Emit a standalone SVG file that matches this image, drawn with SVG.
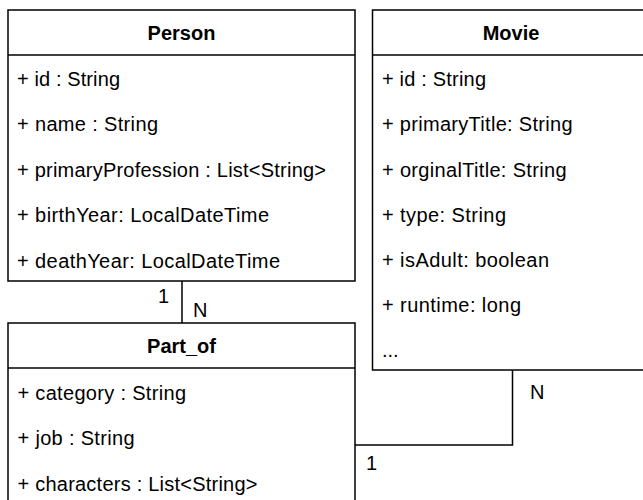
<svg xmlns="http://www.w3.org/2000/svg" width="643" height="500" viewBox="0 0 643 500">
<style>
.box{fill:#fff;stroke:#000;stroke-width:1.5}
.sep{stroke:#000;stroke-width:1.5;fill:none}
.conn{stroke:#000;stroke-width:1.5;fill:none}
text{font-family:"Liberation Sans",Arial,sans-serif;font-size:20px;fill:#000}
.title{font-weight:bold;text-anchor:middle}
.attr{}
</style>
<rect width="643" height="500" fill="#fff"/>
<g id="connectors">
<polyline class="conn" points="182,281 182,323"/>
<text x="169" y="303" text-anchor="end">1</text>
<text x="193" y="317">N</text>
<polyline class="conn" points="355,445 512.5,445 512.5,370"/>
<text x="530" y="399">N</text>
<text x="366" y="470">1</text>
</g>
<g id="person">
<rect class="box" x="8" y="10" width="347" height="271"/>
<line class="sep" x1="8" y1="55" x2="355" y2="55"/>
<text class="title" x="181.5" y="40">Person</text>
<text class="attr" x="17" y="86" textLength="103" lengthAdjust="spacing">+ id : String</text>
<text class="attr" x="17" y="131.3" textLength="141" lengthAdjust="spacing">+ name : String</text>
<text class="attr" x="17" y="176.6" textLength="309" lengthAdjust="spacing">+ primaryProfession : List&lt;String&gt;</text>
<text class="attr" x="17" y="222" textLength="252" lengthAdjust="spacing">+ birthYear: LocalDateTime</text>
<text class="attr" x="17" y="267.5" textLength="263" lengthAdjust="spacing">+ deathYear: LocalDateTime</text>
</g>
<g id="movie">
<rect class="box" x="372.5" y="10" width="278" height="360"/>
<line class="sep" x1="372.5" y1="55" x2="650" y2="55"/>
<text class="title" x="511" y="40">Movie</text>
<text class="attr" x="382" y="86" textLength="104" lengthAdjust="spacing">+ id : String</text>
<text class="attr" x="382" y="131.3" textLength="190.5" lengthAdjust="spacing">+ primaryTitle: String</text>
<text class="attr" x="382" y="176.6" textLength="184.5" lengthAdjust="spacing">+ orginalTitle: String</text>
<text class="attr" x="382" y="222" textLength="124" lengthAdjust="spacing">+ type: String</text>
<text class="attr" x="382" y="267" textLength="167" lengthAdjust="spacing">+ isAdult: boolean</text>
<text class="attr" x="382" y="312" textLength="139" lengthAdjust="spacing">+ runtime: long</text>
<text class="attr" x="382" y="357">...</text>
</g>
<g id="part_of">
<rect class="box" x="8" y="323" width="347" height="190"/>
<line class="sep" x1="8" y1="368" x2="355" y2="368"/>
<text class="title" x="181.5" y="353">Part_of</text>
<text class="attr" x="17.5" y="399.5" textLength="168.5" lengthAdjust="spacing">+ category : String</text>
<text class="attr" x="17.5" y="445" textLength="117" lengthAdjust="spacing">+ job : String</text>
<text class="attr" x="17.5" y="490.5" textLength="240" lengthAdjust="spacing">+ characters : List&lt;String&gt;</text>
</g>
</svg>
